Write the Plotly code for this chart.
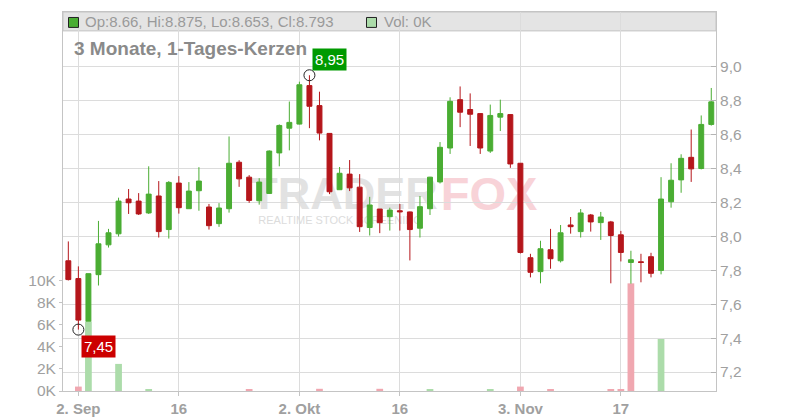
import numpy as np
import pandas as pd
import plotly.graph_objects as go

# ---------------- data ----------------
dates = pd.bdate_range("2025-09-01", "2025-11-28").strftime("%Y-%m-%d").tolist()

opens = [7.856, 7.751, 7.500, 7.774, 7.950, 8.015, 8.220, 8.208, 8.138, 8.238,
         8.040, 8.314, 8.163, 8.269, 8.173, 8.075, 8.163, 8.437, 8.349, 8.210,
         8.253, 8.492, 8.638, 8.662, 8.889, 8.771, 8.607, 8.275, 8.367, 8.290,
         8.052, 8.161, 8.116, 8.151, 8.144, 8.048, 8.163, 8.321, 8.521, 8.806,
         8.748, 8.724, 8.503, 8.703, 8.718, 8.431, 7.874, 7.792, 7.921, 7.856,
         8.067, 8.028, 8.126, 8.081, 8.085, 8.009, 7.846, 7.850, 7.880, 7.799,
         8.204, 8.333, 8.466, 8.400, 8.660]
highs = [7.970, 7.823, 7.780, 8.091, 8.044, 8.228, 8.279, 8.255, 8.413, 8.326,
         8.326, 8.355, 8.320, 8.408, 8.191, 8.196, 8.589, 8.449, 8.361, 8.343,
         8.507, 8.660, 8.795, 8.912, 8.950, 8.853, 8.609, 8.409, 8.450, 8.367,
         8.233, 8.161, 8.169, 8.191, 8.146, 8.238, 8.351, 8.556, 8.820, 8.884,
         8.843, 8.724, 8.777, 8.806, 8.720, 8.431, 7.897, 7.974, 8.044, 8.067,
         8.114, 8.161, 8.132, 8.144, 8.091, 8.032, 7.915, 7.897, 7.903, 8.349,
         8.431, 8.484, 8.630, 8.713, 8.875]
lows = [7.740, 7.450, 7.500, 7.710, 7.934, 7.999, 8.132, 8.126, 8.132, 7.993,
        7.987, 8.134, 8.163, 8.151, 8.040, 8.056, 8.140, 8.292, 8.198, 8.187,
        8.250, 8.413, 8.507, 8.660, 8.638, 8.566, 8.249, 8.275, 8.267, 8.026,
        8.005, 8.019, 8.034, 8.034, 7.858, 7.993, 8.126, 8.312, 8.486, 8.644,
        8.533, 8.486, 8.492, 8.621, 8.404, 7.899, 7.758, 7.723, 7.809, 7.846,
        8.016, 7.993, 8.028, 7.979, 7.723, 7.852, 7.721, 7.729, 7.758, 7.776,
        8.169, 8.257, 8.321, 8.395, 8.653]
closes = [7.745, 7.506, 7.780, 7.956, 8.021, 8.208, 8.198, 8.132, 8.249, 8.028,
          8.318, 8.169, 8.267, 8.326, 8.063, 8.167, 8.431, 8.339, 8.212, 8.320,
          8.503, 8.654, 8.672, 8.894, 8.767, 8.609, 8.263, 8.372, 8.286, 8.057,
          8.185, 8.081, 8.155, 8.145, 8.040, 8.175, 8.349, 8.525, 8.796, 8.732,
          8.720, 8.521, 8.713, 8.724, 8.427, 7.905, 7.788, 7.927, 7.868, 8.021,
          8.057, 8.138, 8.085, 8.114, 8.005, 7.905, 7.862, 7.846, 7.782, 8.220,
          8.331, 8.460, 8.398, 8.660, 8.793]
volumes = [0, 400, 6300, 0, 0, 2450, 0, 0, 100, 0,
           0, 0, 0, 0, 0, 0, 0, 0, 100, 0,
           0, 0, 0, 0, 0, 200, 0, 0, 0, 0,
           0, 200, 0, 0, 0, 0, 100, 0, 0, 0,
           0, 0, 100, 0, 0, 400, 0, 0, 100, 0,
           0, 0, 0, 0, 100, 100, 9730, 0, 0, 4700,
           0, 0, 0, 0, 0]

tick_dates = ["2025-09-02", "2025-09-16", "2025-10-02", "2025-10-16", "2025-11-03", "2025-11-17"]
tick_labels = ["2. Sep", "16", "2. Okt", "16", "3. Nov", "17"]
price_ticks = [7.2, 7.4, 7.6, 7.8, 8.0, 8.2, 8.4, 8.6, 8.8, 9.0]
vol_ticks = [0, 2000, 4000, 6000, 8000, 10000]
vol_tick_labels = ["0K", "2K", "4K", "6K", "8K", "10K"]
title_text = "3 Monate, 1-Tages-Kerzen"

# ---------------- styling ----------------
GREEN = "#4aad33"
RED = "#b5161b"
VOL_UP = "#acdcaa"
VOL_DN = "#f0a7b0"
GRID = "#dcdcdc"
AXIS = "#c4c4c4"
TICKC = "#a0a0a0"
FONT = "Liberation Sans"

# page (window) geometry of the plot area; the page body has an 8px margin
OFF = 8
PL, PR, PT, PB = 63, 716, 11, 392
W, H = 800 - OFF, 420 - OFF
PW, PH = PR - PL, PB - PT


def px_x(p):
    return (p - PL) / PW


def px_y(p):
    return (PB - p) / PH


c = np.array(closes)
vol_colors = [VOL_UP] + [VOL_UP if c[i] >= c[i - 1] else VOL_DN for i in range(1, len(c))]

i_hi = int(np.argmax(highs))
i_lo = int(np.argmin(lows))


def fmt(v):
    return f"{v:.2f}".replace(".", ",")


fig = go.Figure()
fig.add_trace(go.Bar(x=dates, y=volumes, marker=dict(color=vol_colors, line=dict(width=0)),
                     yaxis="y", hoverinfo="skip", showlegend=False))
fig.add_trace(go.Candlestick(
    x=dates, open=opens, high=highs, low=lows, close=closes, yaxis="y2",
    increasing=dict(line=dict(color=GREEN, width=1), fillcolor=GREEN),
    decreasing=dict(line=dict(color=RED, width=1), fillcolor=RED),
    whiskerwidth=0, showlegend=False))
fig.add_trace(go.Scatter(
    x=[dates[i_hi], dates[i_lo]], y=[highs[i_hi], lows[i_lo]], yaxis="y2", mode="markers",
    marker=dict(symbol="circle-open", size=11, color="#222222", line=dict(width=1)),
    hoverinfo="skip", showlegend=False))

annotations = [
    dict(x=dates[i_hi], y=highs[i_hi], xref="x", yref="y2", text=fmt(highs[i_hi]),
         showarrow=False, xanchor="left", yanchor="bottom", xshift=3, yshift=4,
         bgcolor="#009a00", font=dict(family=FONT, size=15, color="white"), borderpad=2),
    dict(x=dates[i_lo], y=lows[i_lo], xref="x", yref="y2", text=fmt(lows[i_lo]),
         showarrow=False, xanchor="left", yanchor="top", xshift=3, yshift=-5,
         bgcolor="#cc0000", font=dict(family=FONT, size=15, color="white"), borderpad=2),
    dict(x=px_x(72), y=px_y(48), xref="paper", yref="paper", text="<b>" + title_text + "</b>",
         showarrow=False, xanchor="left", yanchor="middle",
         font=dict(family=FONT, size=19, color="#8a8a8a")),
    dict(x=px_x(83), y=px_y(21), xref="paper", yref="paper",
         text=f"Op:{opens[-1]:g}, Hi:{highs[-1]:g}, Lo:{lows[-1]:g}, Cl:{closes[-1]:g}",
         showarrow=False, xanchor="left", yanchor="middle",
         font=dict(family=FONT, size=15, color="#9a9a9a")),
    dict(x=px_x(381.5), y=px_y(21), xref="paper", yref="paper",
         text=f"Vol: {volumes[-1] / 1000:.0f}K",
         showarrow=False, xanchor="left", yanchor="middle",
         font=dict(family=FONT, size=15, color="#9a9a9a")),
]

shapes = [
    dict(type="rect", xref="paper", yref="paper", x0=0, x1=1, y0=px_y(30), y1=1,
         fillcolor="#e4e4e4", line=dict(color="#c4c4c4", width=1), layer="below"),
    dict(type="rect", xref="paper", yref="paper", x0=px_x(68.5), x1=px_x(78.5),
         y0=px_y(26.5), y1=px_y(16.5), fillcolor=GREEN, line=dict(color="#222222", width=1)),
    dict(type="rect", xref="paper", yref="paper", x0=px_x(366.5), x1=px_x(376.5),
         y0=px_y(26.5), y1=px_y(16.5), fillcolor=VOL_UP, line=dict(color="#222222", width=1)),
    # watermark
    dict(type="rect", xref="paper", yref="paper", x0=px_x(252), x1=px_x(436),
         y0=px_y(210), y1=px_y(168), line=dict(width=0), fillcolor="rgba(0,0,0,0)", layer="below",
         label=dict(text="TRADER", textposition="middle center",
                    font=dict(family=FONT, size=45, color="#e2e2e2", weight="bold"))),
    dict(type="rect", xref="paper", yref="paper", x0=px_x(436), x1=px_x(542),
         y0=px_y(210), y1=px_y(168), line=dict(width=0), fillcolor="rgba(0,0,0,0)", layer="below",
         label=dict(text="FOX", textposition="middle center",
                    font=dict(family=FONT, size=47, color="#f8d3d8", weight="bold"))),
    dict(type="rect", xref="paper", yref="paper", x0=px_x(248), x1=px_x(432),
         y0=px_y(226), y1=px_y(212), line=dict(width=0), fillcolor="rgba(0,0,0,0)", layer="below",
         label=dict(text="REALTIME STOCK SCREENING", textposition="middle center",
                    font=dict(family=FONT, size=11, color="#dcdcdc"))),
]

fig.update_layout(
    width=W, height=H, autosize=False,
    margin=dict(l=PL - OFF, r=800 - PR, t=PT - OFF, b=420 - PB, pad=0),
    paper_bgcolor="white", plot_bgcolor="white",
    separators=", ",
    bargap=0.33, boxgap=0.3,
    showlegend=False,
    font=dict(family=FONT, color=TICKC),
    annotations=annotations, shapes=shapes,
    xaxis=dict(type="category", categoryorder="trace", range=[-0.53, 64.47],
               tickvals=tick_dates, ticktext=["<b>" + t + "</b>" for t in tick_labels],
               showgrid=True, gridcolor=GRID, gridwidth=1,
               showline=True, linecolor=AXIS, linewidth=1, mirror=True,
               ticks="outside", ticklen=4, tickcolor=AXIS,
               tickfont=dict(family=FONT, size=15, color=TICKC),
               rangeslider=dict(visible=False), fixedrange=True),
    yaxis=dict(side="left", range=[0, 34260], tickvals=vol_ticks, ticktext=vol_tick_labels,
               showgrid=False, zeroline=False, showline=True, linecolor=AXIS, linewidth=1,
               ticks="outside", ticklen=3, tickcolor=AXIS,
               tickfont=dict(family=FONT, size=15.5, color=TICKC)),
    yaxis2=dict(side="right", overlaying="y", range=[7.088, 9.323], tickvals=price_ticks,
                tickformat=".1f", showgrid=True, gridcolor=GRID, gridwidth=1, zeroline=False,
                showline=True, linecolor=AXIS, linewidth=1,
                ticks="inside", ticklen=5, tickcolor="#b4b4b4",
                tickfont=dict(family=FONT, size=15.5, color=TICKC)),
)

fig.write_html("out.html")
